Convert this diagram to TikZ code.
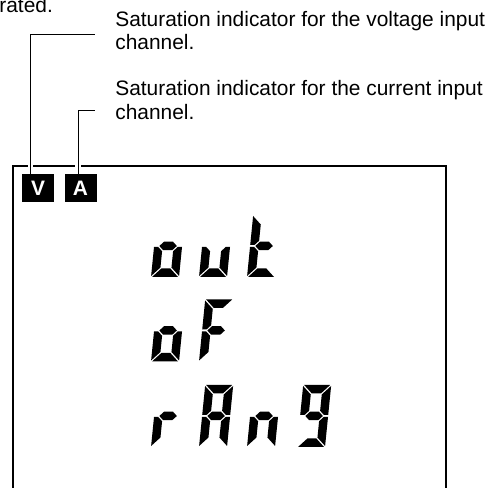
\documentclass[tikz,border=0pt]{standalone}
\usepackage{fontspec}
\setmainfont{Liberation Sans}
\usepackage{tikz}
\usetikzlibrary{positioning}

\tikzset{
  seg a/.pic={\fill (0.02,1.24) -- (0.54,1.24) -- (0.37,1.07) -- (0.19,1.07) -- cycle;},
  seg b/.pic={\fill (0.56,1.22) -- (0.39,1.05) -- (0.39,0.725) -- (0.475,0.64) -- (0.56,0.64) -- cycle;},
  seg c/.pic={\fill (0.56,0.02) -- (0.39,0.19) -- (0.39,0.515) -- (0.475,0.60) -- (0.56,0.60) -- cycle;},
  seg d/.pic={\fill (0.02,0) -- (0.54,0) -- (0.37,0.17) -- (0.19,0.17) -- cycle;},
  seg e/.pic={\fill (0,0.02) -- (0.17,0.19) -- (0.17,0.515) -- (0.085,0.60) -- (0,0.60) -- cycle;},
  seg f/.pic={\fill (0,1.22) -- (0.17,1.05) -- (0.17,0.725) -- (0.085,0.64) -- (0,0.64) -- cycle;},
  seg g/.pic={\fill (0.105,0.62) -- (0.19,0.705) -- (0.37,0.705) -- (0.455,0.62) -- (0.37,0.535) -- (0.19,0.535) -- cycle;}
}
\newcommand{\lcdchar}[3]{%
  \begin{scope}[shift={(#1,#2)}, xslant=0.1]
    \foreach \s in {#3} {\pic[transform shape] {seg \s};}
  \end{scope}}

\begin{document}
\begin{tikzpicture}[font=\fontsize{11.9}{13.1}\selectfont,
  leader/.style={line width=0.55pt, preaction={draw, white, line width=3pt}},
  flag/.style={fill=black, text=white, font=\fontsize{11.9}{13.1}\selectfont\bfseries,
    minimum width=0.64cm, minimum height=0.56cm, inner sep=0}]
\useasboundingbox (0,0) rectangle (9.96,9.76);

\node[anchor=base west, inner sep=0] (prevtext) at (-0.02,9.51) {rated.};
\node[anchor=north west, inner sep=0, align=left] (volttext) at (2.30,9.54)
  {Saturation indicator for the voltage input\\channel.};
\node[anchor=north west, inner sep=0, align=left] (currtext) at (2.30,8.15)
  {Saturation indicator for the current input\\channel.};

% display window
\draw[line width=0.85pt] (0.26,0) |- (8.92,6.44) -- (8.92,0);

\node[flag] (vflag) at (0.76,6.00) {V};
\node[flag] (aflag) at (1.61,6.00) {A};

\coordinate (vend) at (1.90,9.08);
\coordinate (aend) at (1.90,7.56);
\draw[leader] ([xshift=-0.15cm]vflag.north) |- (vend);
\draw[leader] ([xshift=-0.05cm]aflag.north) |- (aend);

% out
\lcdchar{3.02}{4.22}{g,e,d,c}
\lcdchar{3.98}{4.22}{e,d,c}
\lcdchar{4.94}{4.22}{f,e,d,g}
% oF
\lcdchar{3.02}{2.53}{g,e,d,c}
\lcdchar{3.98}{2.53}{a,f,g,e}
% rAng
\lcdchar{3.02}{0.82}{e,g}
\lcdchar{3.98}{0.82}{a,b,c,e,f,g}
\lcdchar{4.94}{0.82}{e,g,c}
\lcdchar{5.94}{0.82}{a,b,c,d,f,g}
\end{tikzpicture}
\end{document}
